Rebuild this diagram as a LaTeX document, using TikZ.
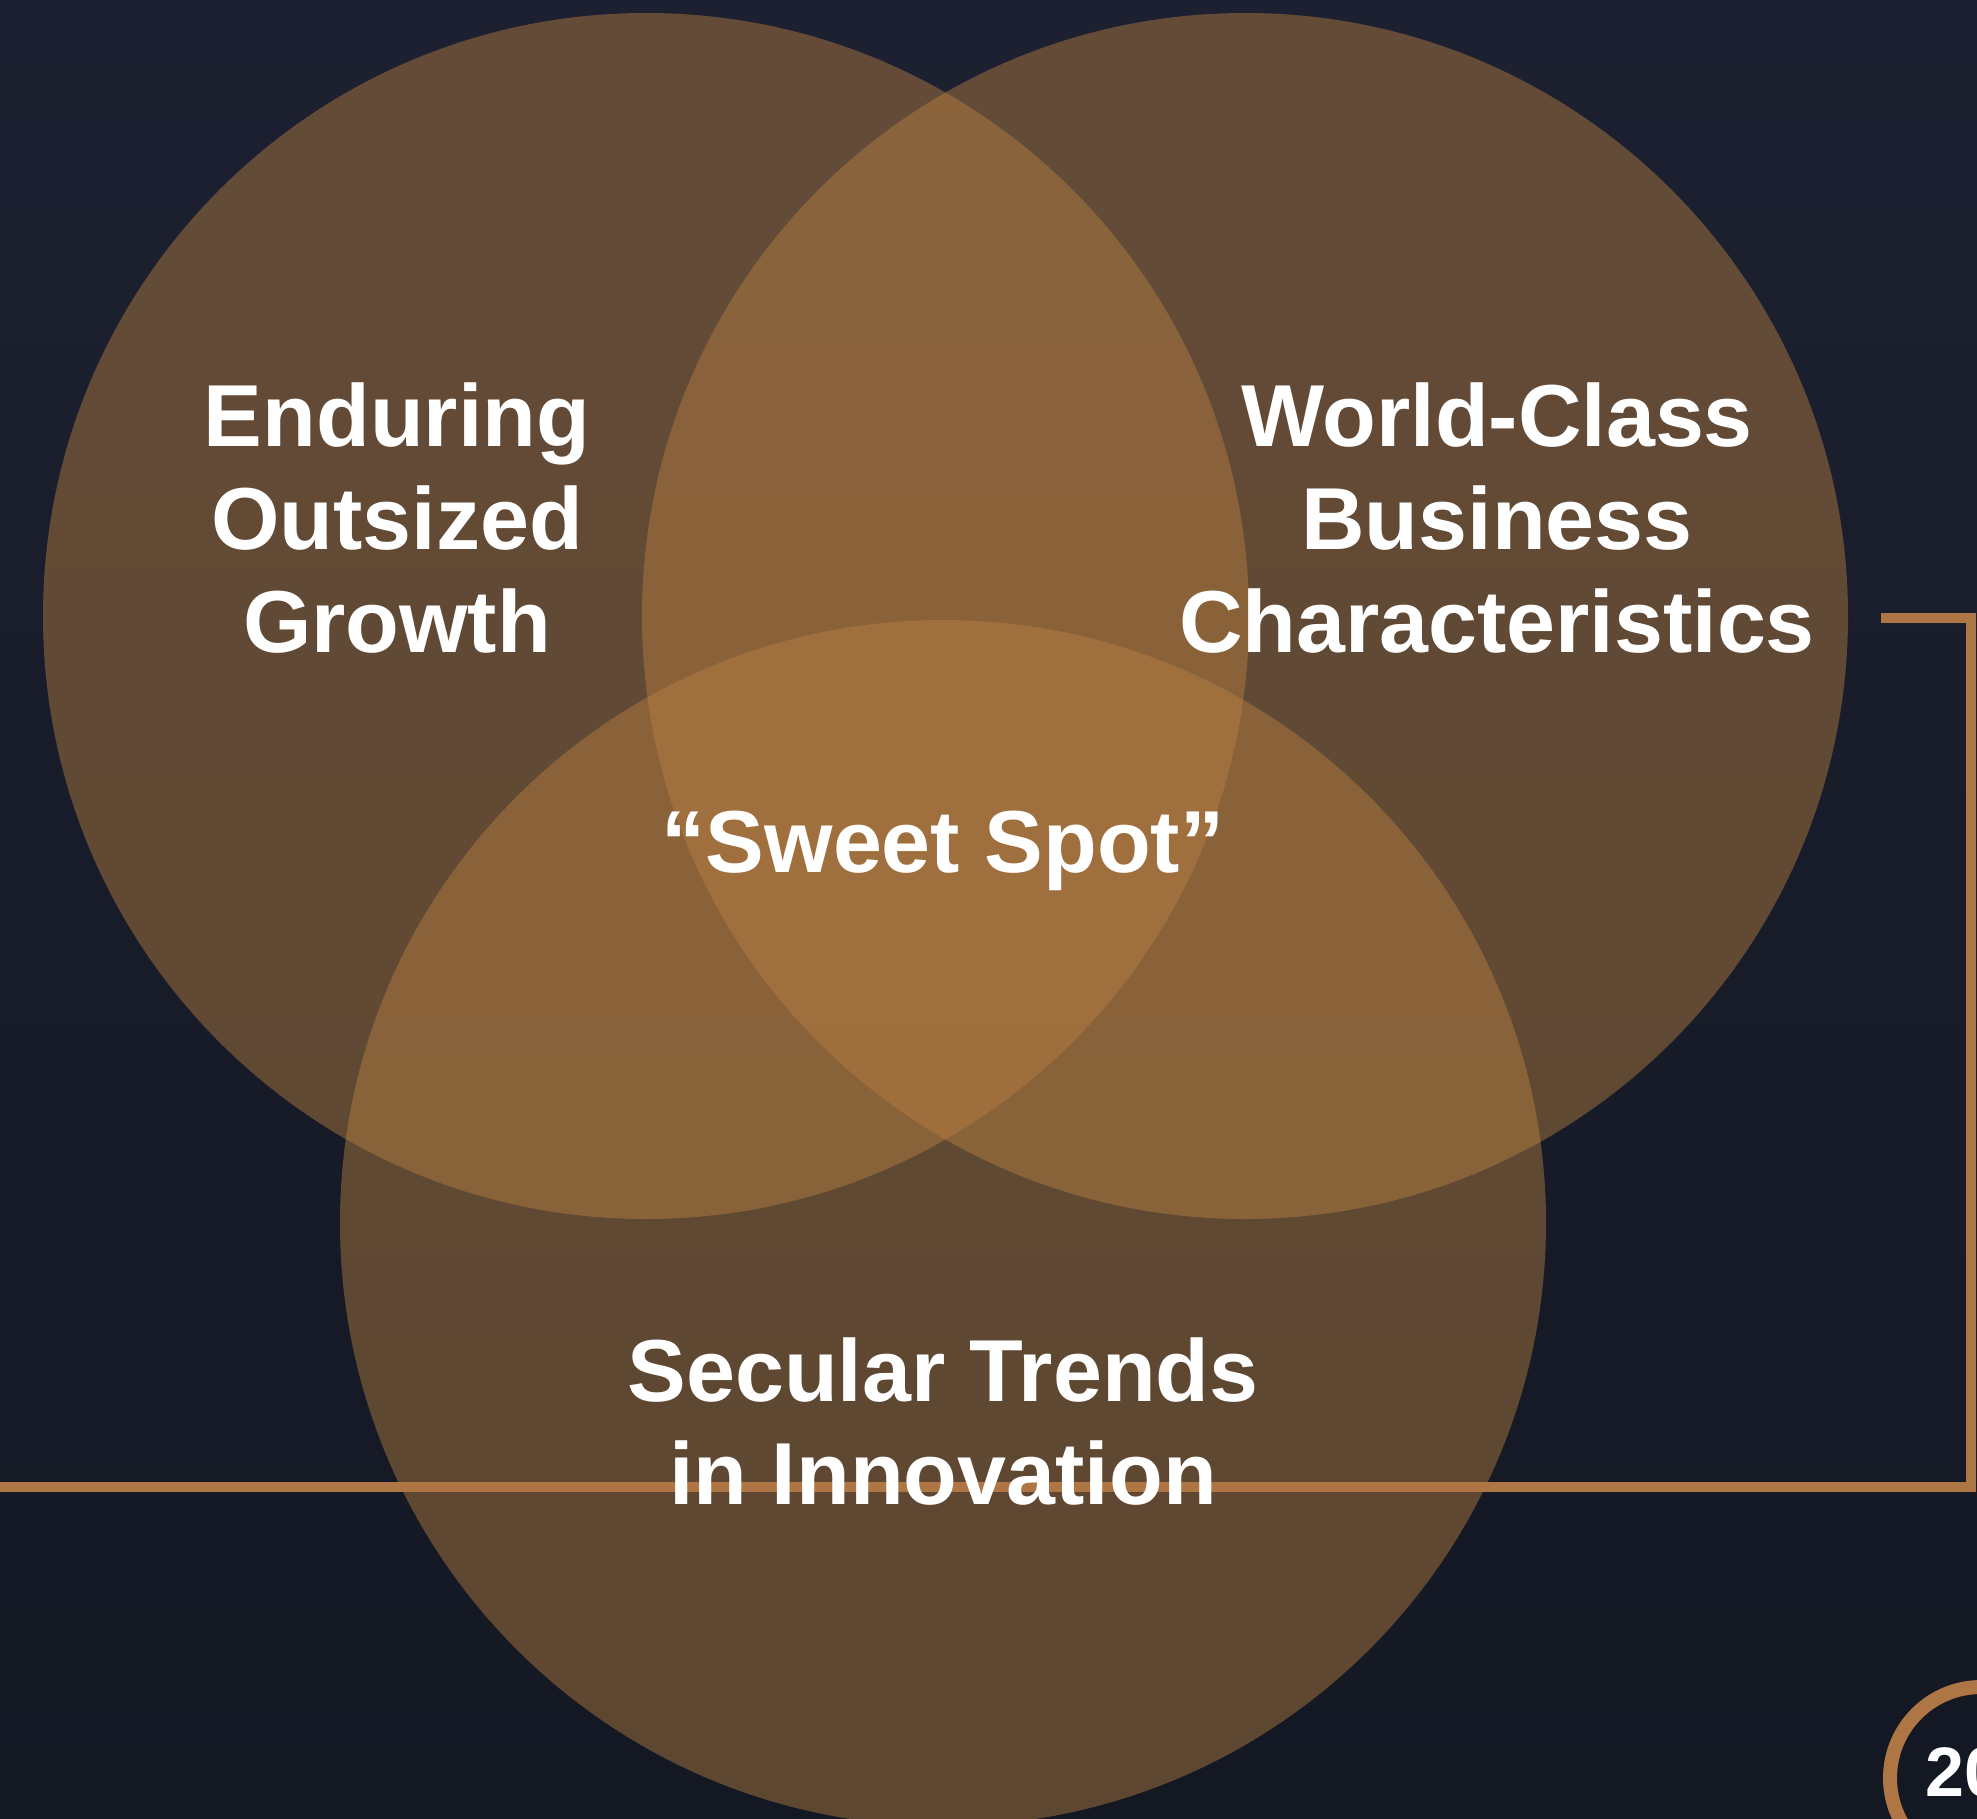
\documentclass[tikz,border=0pt]{standalone}
\usepackage{fontspec}
\setmainfont{Liberation Sans}
\definecolor{bgtop}{HTML}{1C2030}
\definecolor{bgbottom}{HTML}{141823}
\definecolor{vennfill}{HTML}{BA8142}
\definecolor{ruleorange}{HTML}{AD7644}
\begin{document}
\begin{tikzpicture}[x=1pt,y=-1pt,
  venn/.style={circle, fill=vennfill, fill opacity=0.45, draw=none,
    minimum size=1206pt, inner sep=0pt},
  vennlabel/.style={text=white, align=center, inner sep=0pt,
    font=\bfseries\fontsize{88}{103}\selectfont},
  rule/.style={draw=ruleorange, line width=10pt, line join=miter},
  pagering/.style={circle, draw=ruleorange, line width=14pt,
    minimum size=182pt, inner sep=0pt}]
  \useasboundingbox (0,0) rectangle (1977,1819);
  \clip (0,0) rectangle (1977,1819);
  % backdrop
  \shade[top color=bgtop, bottom color=bgbottom] (0,0) rectangle (1977,1819);

  % the three overlapping sets
  \node[venn] (growth) at (646,616) {};
  \node[venn] (quality) at (1245,616) {};
  \node[venn] (trends) at (943,1223) {};

  % bracket running from the right set down and across the page
  \coordinate (bstart) at (1881,618);
  \coordinate (bcorner1) at (1971,618);
  \coordinate (bcorner2) at (1971,1487);
  \coordinate (bend) at (-10,1487);
  \draw[rule] (bstart) -- (bcorner1) -- (bcorner2) -- (bend);

  % labels
  \node[vennlabel] (growthlabel) at (397,518) {Enduring\\Outsized\\Growth};
  \node[vennlabel] (qualitylabel) at (1497,518) {World-Class\\Business\\Characteristics};
  \node[vennlabel] (sweetspot) at (943,851) {“Sweet Spot”};
  \node[vennlabel] (trendslabel) at (943,1422) {Secular Trends\\in Innovation};

  % page number badge
  \node[pagering] (pagebadge) at (1981,1778) {};
  \node[text=white, anchor=west, inner sep=0pt,
    font=\bfseries\fontsize{70}{80}\selectfont] (pagenum) at (1925,1772) {20};
\end{tikzpicture}
\end{document}
